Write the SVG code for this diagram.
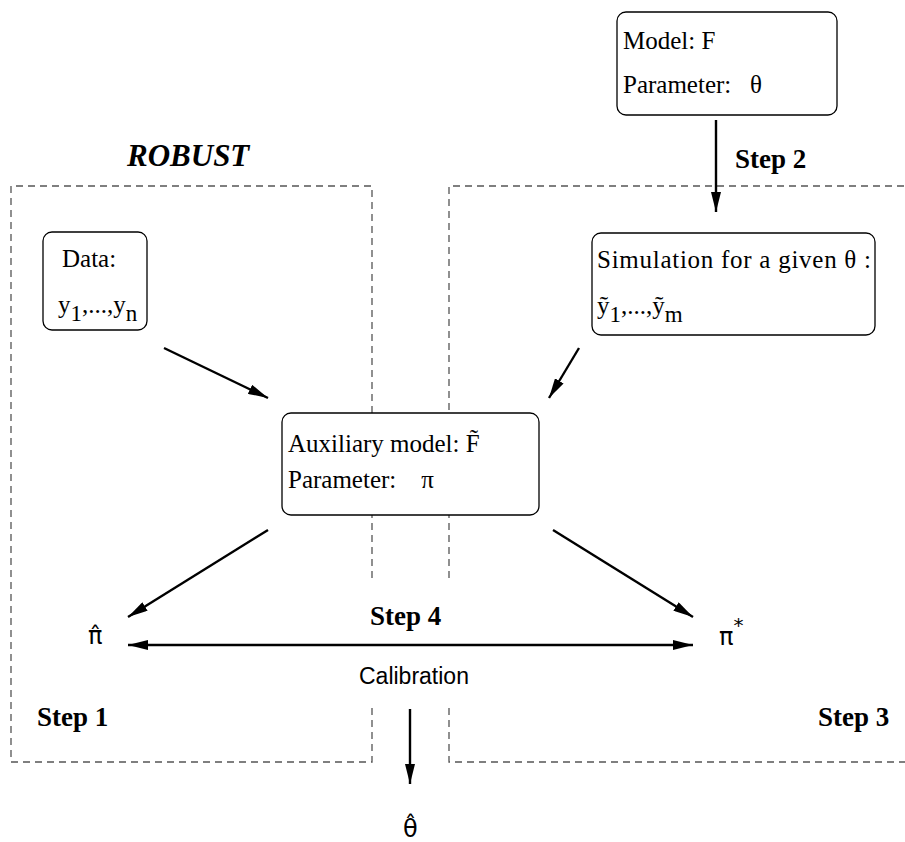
<svg xmlns="http://www.w3.org/2000/svg" width="905" height="842" viewBox="0 0 905 842">
<style>
.t{font-family:"Liberation Serif","Times New Roman",serif;font-size:25px;fill:#000}
.s{font-family:"Liberation Sans",Arial,sans-serif;font-size:23px;fill:#000}
.d{font-family:"DejaVu Sans",sans-serif;font-size:24px;fill:#000}
.b{font-family:"Liberation Serif","Times New Roman",serif;font-size:27px;font-weight:bold;fill:#000}
.box{fill:#fff;stroke:#000;stroke-width:1.3}
.dash{fill:none;stroke:#555;stroke-width:1.3;stroke-dasharray:7 5}
.arr{fill:none;stroke:#000;stroke-width:2.4;marker-end:url(#ah)}
</style>
<defs>
<marker id="ah" markerWidth="20" markerHeight="10" refX="20" refY="5" orient="auto" markerUnits="userSpaceOnUse">
<path d="M0,0 L20,5 L0,10 Z" fill="#000"/>
</marker>
<marker id="ahs" markerWidth="20" markerHeight="10" refX="0" refY="5" orient="auto" markerUnits="userSpaceOnUse">
<path d="M20,0 L0,5 L20,10 Z" fill="#000"/>
</marker>
</defs>
<g id="regions">
<path class="dash" d="M372,413 V186 H11 V762 H372 V708 M372,578 V515"/>
<path class="dash" d="M449,578 V186 H910 M449,708 V762 H910"/>
</g>
<g id="labels">
<text class="b" x="127" y="166" style="font-style:italic;font-size:31px">ROBUST</text>
<text class="b" x="735" y="168">Step 2</text>
<text class="b" x="370" y="625">Step 4</text>
<text class="b" x="37" y="726">Step 1</text>
<text class="b" x="818" y="726">Step 3</text>
<text class="s" x="359" y="684">Calibration</text>
</g>
<g id="connectors">
<line class="arr" x1="716" y1="120" x2="716" y2="212"/>
<line class="arr" x1="164" y1="348" x2="268" y2="398"/>
<line class="arr" x1="579" y1="348" x2="549" y2="398"/>
<line class="arr" x1="268" y1="530" x2="128" y2="617"/>
<line class="arr" x1="553" y1="530" x2="693" y2="617"/>
<line class="arr" x1="128" y1="645" x2="693" y2="645" style="marker-start:url(#ahs)"/>
<line class="arr" x1="410" y1="709" x2="410" y2="784"/>
</g>
<g id="model">
<rect class="box" x="617" y="12" width="220" height="103" rx="9"/>
<text class="t" x="623" y="49">Model: F</text>
<text class="t" x="623" y="93" xml:space="preserve">Parameter:   θ</text>
</g>
<g id="data">
<rect class="box" x="43" y="232" width="104" height="98" rx="9"/>
<text class="t" x="62" y="267">Data:</text>
<text class="t" x="58" y="313">y<tspan dy="8" font-size="23">1</tspan><tspan dy="-8">,...,y</tspan><tspan dy="8" font-size="23">n</tspan></text>
</g>
<g id="simulation">
<rect class="box" x="592" y="233" width="283" height="102" rx="9"/>
<text class="t" x="597" y="268" textLength="274" lengthAdjust="spacing">Simulation for a given θ :</text>
<text class="t" x="597" y="314">ỹ<tspan dy="8" font-size="23">1</tspan><tspan dy="-8">,...,ỹ</tspan><tspan dy="8" font-size="23">m</tspan></text>
</g>
<g id="auxiliary">
<rect class="box" x="282" y="413" width="257" height="102" rx="9"/>
<text class="t" x="288" y="452">Auxiliary model: F̃</text>
<text class="t" x="288" y="488" xml:space="preserve">Parameter:    π</text>
</g>
<g id="pihat">
<text class="d" x="88" y="644">π̂</text>
</g>
<g id="pistar">
<text class="d" x="719" y="645">π<tspan dy="-13" font-size="20">*</tspan></text>
</g>
<g id="thetahat">
<text class="d" x="403" y="837">θ̂</text>
</g>
</svg>
